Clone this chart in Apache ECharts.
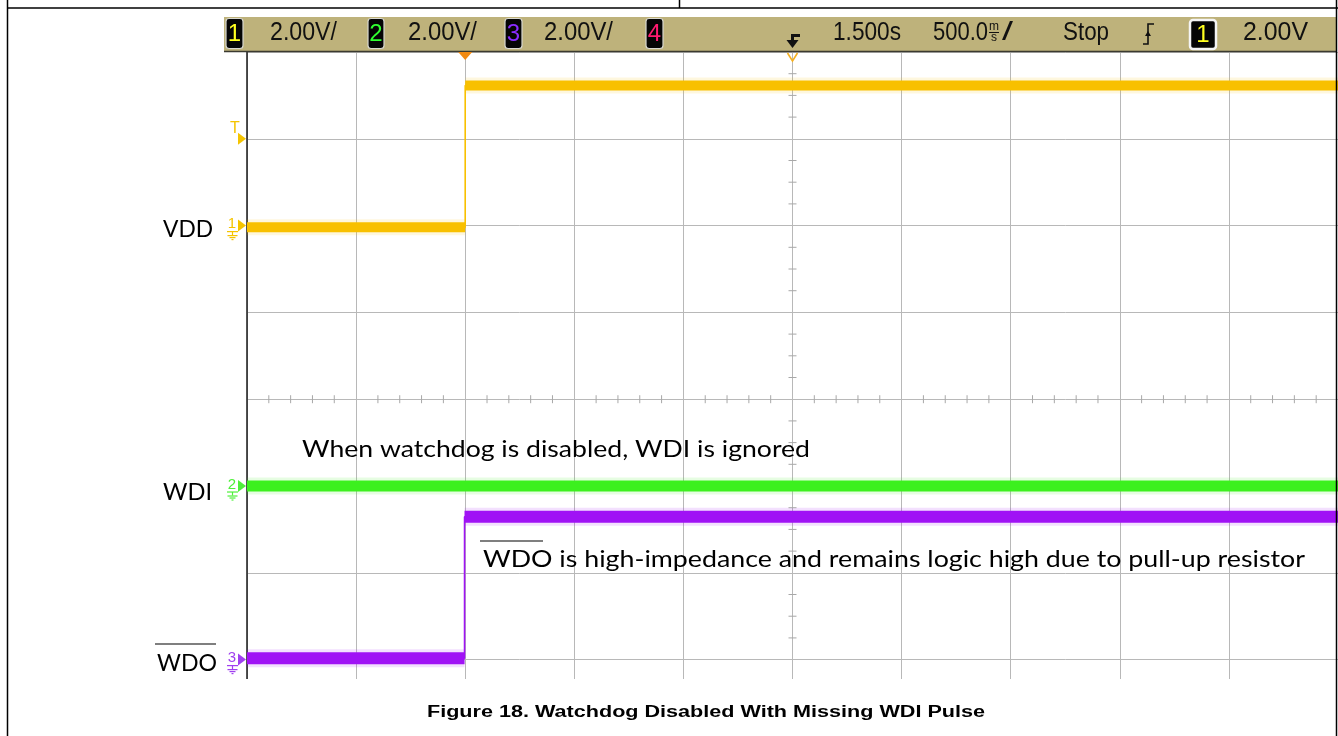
<!DOCTYPE html>
<html><head><meta charset="utf-8">
<script src="https://cdn.jsdelivr.net/npm/echarts@6/dist/echarts.min.js"></script>
<style>html,body{margin:0;padding:0;background:#fff}#c{width:1338px;height:736px}</style>
</head><body><div id="c"></div><script>
// ---------------- data ----------------
const timeRange = [-1.0, 4.0];          // s  (500 ms/div, delay 1.500 s at centre)
const timeStep = 0.5;                   // s per division
const delayTime = 1.5;                  // s
const triggerTime = 0.0;                // s
const divTop = 4;                       // top of screen, divisions above centre
const divVisibleBottom = -3.88;         // screenshot is cropped just above the bottom graticule line
const channelNames = ['VDD', 'WDI', 'WDO'];
const channelNums = ['1', '2', '3'];
const channelOffsetsDiv = [2, -1, -3];  // ground reference of each channel (div above centre)
const voltsPerDiv = [2.0, 2.0, 2.0];
const vddTime = [-1.0, 0.0, 0.0, 4.0];
const vddVolts = [-0.04, -0.04, 3.23, 3.23];
const wdiTime = [-1.0, 4.0];
const wdiVolts = [0.0, 0.0];
const wdoTime = [-1.0, -0.003, -0.003, 4.0];
const wdoVolts = [0.03, 0.03, 3.29, 3.29];
const triggerLevelV = 2.0;
const headerScale = ['2.00V/', '2.00V/', '2.00V/'];
const headerTimeText = ['1.500s', '500.0', 'Stop', '2.00V'];
const annotations = ['When watchdog is disabled, WDI is ignored',
  'WDO is high-impedance and remains logic high due to pull-up resistor'];
const captionText = 'Figure 18. Watchdog Disabled With Missing WDI Pulse';

// ---------------- styles ----------------
const chColors = ['#f8c000', '#3cf01e', '#a012f5'];
const chBandWidth = [10, 11, 12];
const chMarkColors = ['#f5c400', '#4ef03a', '#a040f0'];
const gridColor = '#b8b8b8';

// screen y axis runs downward (inverse), in divisions below centre
const toScreen = (ci, v) => -(channelOffsetsDiv[ci] + v / voltsPerDiv[ci]);

const traces = [[vddTime, vddVolts], [wdiTime, wdiVolts], [wdoTime, wdoVolts]];
const series = [];
traces.forEach(([ts, vs], ci) => {
  const pts = ts.map((t, i) => [t, toScreen(ci, vs[i])]);
  const base = {type: 'line', showSymbol: false, symbol: 'none', silent: true, animation: false, clip: true};
  series.push(Object.assign({}, base, {data: pts, z: 3, lineStyle: {color: chColors[ci], width: 1.6}}));
  for (let i = 1; i < pts.length; i++) {
    if (pts[i][1] === pts[i - 1][1]) {
      series.push(Object.assign({}, base, {data: [pts[i - 1], pts[i]], z: 2,
        lineStyle: {color: chColors[ci], width: chBandWidth[ci] + 6, opacity: 0.13, cap: 'butt'}}));
      series.push(Object.assign({}, base, {data: [pts[i - 1], pts[i]], z: 4,
        lineStyle: {color: chColors[ci], width: chBandWidth[ci], cap: 'butt'}}));
    }
  }
});

const chart = echarts.init(document.getElementById('c'), null, {renderer: 'canvas'});
chart.setOption({
  backgroundColor: '#ffffff',
  animation: false,
  grid: {left: 247, top: 52, right: 0, bottom: 0, containLabel: false},
  xAxis: {type: 'value', min: timeRange[0], max: timeRange[1], interval: timeStep,
    axisLine: {show: false}, axisTick: {show: false}, axisLabel: {show: false},
    splitLine: {show: true, lineStyle: {color: gridColor, width: 1}}},
  yAxis: {type: 'value', inverse: true, min: -divTop, max: -divVisibleBottom, interval: 1,
    axisLine: {show: true, onZero: false, lineStyle: {color: '#1a1a1a', width: 1.5}},
    axisTick: {show: false}, axisLabel: {show: false},
    splitLine: {show: true, lineStyle: {color: gridColor, width: 1}}},
  series: series
});

// ---------------- decorations ----------------
const mctx = document.createElement('canvas').getContext('2d');
function tw(txt, font) { mctx.font = font; return mctx.measureText(txt).width; }
function fitText(txt, x, yMid, w, size, family, weight, color, z) {
  const font = (weight || 'normal') + ' ' + size + 'px ' + family;
  const sx = w / tw(txt, font);
  return {type: 'text', x: x, y: yMid, scaleX: sx, z: z || 50, silent: true,
    style: {text: txt, x: 0, y: 0, font: font, fill: color, align: 'left', verticalAlign: 'middle'}};
}
function line(x1, y1, x2, y2, color, w, z) {
  return {type: 'line', z: z || 50, silent: true, shape: {x1, y1, x2, y2}, style: {stroke: color, lineWidth: w}};
}
const px = (t, d) => chart.convertToPixel({gridIndex: 0}, [t, -d]);
const SCOPE = '"Liberation Sans Narrow", "Liberation Sans", Arial, sans-serif';
const CAL = 'Lato, "Open Sans", sans-serif';
const ARIAL = '"Liberation Sans", Arial, sans-serif';

const g = [];
// header bar
g.push({type: 'rect', z: 40, silent: true, shape: {x: 224, y: 17, width: 1113, height: 35}, style: {fill: '#beb27b'}});
g.push(line(224, 51.5, 1337, 51.5, '#3a3a30', 1.5, 41));
// channel boxes
function chBox(x, w, y, h, digit, color, stroke, sw) {
  g.push({type: 'rect', z: 45, silent: true, shape: {x: x, y: y, width: w, height: h, r: 3},
    style: {fill: '#050505', stroke: stroke, lineWidth: sw}});
  g.push({type: 'text', z: 46, silent: true, x: x + w / 2, y: y + h / 2 + 1,
    style: {text: digit, font: 'normal 24px ' + SCOPE, fill: color, align: 'center', verticalAlign: 'middle'}});
}
chBox(226, 17, 18.5, 30, '1', '#ffff20', '#d8d8d0', 1.2);
chBox(368, 16, 18.5, 30, '2', '#30ff30', '#d8d8d0', 1.2);
chBox(505, 17, 18.5, 30, '3', '#8a2cff', '#d8d8d0', 1.2);
chBox(646, 17, 18.5, 30, '4', '#ff1a70', '#d8d8d0', 1.2);
chBox(1190, 26, 20, 29, '1', '#ffff20', '#f4f4f4', 2.5);
g.push(fitText(headerScale[0], 270, 33, 67, 26, SCOPE, 'normal', '#111', 47));
g.push(fitText(headerScale[1], 408, 33, 69, 26, SCOPE, 'normal', '#111', 47));
g.push(fitText(headerScale[2], 544, 33, 69, 26, SCOPE, 'normal', '#111', 47));
g.push(fitText(headerTimeText[0], 833, 33, 68, 26, SCOPE, 'normal', '#111', 47));
g.push(fitText(headerTimeText[1], 933, 33, 55, 26, SCOPE, 'normal', '#111', 47));
g.push({type: 'text', z: 47, silent: true, x: 994, y: 27, style: {text: 'm', font: 'normal 12px ' + SCOPE, fill: '#111', align: 'center', verticalAlign: 'middle'}});
g.push({type: 'text', z: 47, silent: true, x: 994, y: 38, style: {text: 's', font: 'normal 12px ' + SCOPE, fill: '#111', align: 'center', verticalAlign: 'middle'}});
g.push(line(989, 32.5, 999, 32.5, '#111', 1, 47));
g.push(fitText('/', 1002, 33, 11, 26, SCOPE, 'normal', '#111', 47));
g.push(fitText(headerTimeText[2], 1063, 33, 46, 26, SCOPE, 'normal', '#111', 47));
g.push(fitText(headerTimeText[3], 1243, 33, 65, 26, SCOPE, 'normal', '#111', 47));
// trigger edge symbol
g.push({type: 'polyline', z: 47, silent: true, shape: {points: [[1143, 44], [1148, 44], [1148, 24], [1154, 24]]}, style: {stroke: '#111', lineWidth: 1.6, fill: null}});
g.push({type: 'polygon', z: 47, silent: true, shape: {points: [[1145, 36], [1148, 31], [1151, 36]]}, style: {fill: '#111'}});

// delay / trigger markers
const cx = px(delayTime, 0)[0];
const trigX = px(triggerTime, 0)[0];
g.push({type: 'polygon', z: 47, silent: true, shape: {points: [[cx - 6, 40], [cx + 6, 40], [cx, 48]]}, style: {fill: '#111'}});
g.push({type: 'rect', z: 47, silent: true, shape: {x: cx - 1.5, y: 35, width: 3, height: 6}, style: {fill: '#111'}});
g.push({type: 'rect', z: 47, silent: true, shape: {x: cx - 1.5, y: 34, width: 9, height: 3}, style: {fill: '#111'}});
g.push({type: 'polygon', z: 47, silent: true, shape: {points: [[trigX - 7, 52], [trigX + 7, 52], [trigX, 60]]}, style: {fill: '#f28a10'}});
g.push({type: 'polyline', z: 47, silent: true, shape: {points: [[cx - 5, 53], [cx, 61], [cx + 5, 53]]}, style: {stroke: '#f5b020', lineWidth: 1.6, fill: null}});

// minor ticks on centre lines
const yc = px(0, 0)[1];
for (let k = 0; k <= 50; k++) {
  if (k % 5 === 0) continue;
  const x = px(timeRange[0] + k * 0.1, 0)[0];
  g.push(line(x, yc - 4, x, yc + 4, '#a8a8a8', 1, 30));
}
for (let k = 0; k <= 32; k++) {
  if (k % 4 === 0) continue;
  const y = px(0, divTop - k * 0.25)[1];
  g.push(line(cx - 4, y, cx + 4, y, '#a8a8a8', 1, 30));
}

// channel ground markers
const plotLeft = px(timeRange[0], 0)[0];
channelNums.forEach((n, ci) => {
  const y = px(0, channelOffsetsDiv[ci])[1];
  const c = chMarkColors[ci];
  g.push({type: 'text', z: 48, silent: true, x: plotLeft - 15, y: y - 1.5,
    style: {text: n, font: 'normal 15px ' + SCOPE, fill: c, align: 'center', verticalAlign: 'middle'}});
  g.push({type: 'polygon', z: 48, silent: true, shape: {points: [[plotLeft - 9, y - 6], [plotLeft - 1, y], [plotLeft - 9, y + 6]]}, style: {fill: c}});
  g.push(line(plotLeft - 20, y + 6, plotLeft - 9, y + 6, c, 1.2, 48));
  g.push(line(plotLeft - 14.5, y + 6, plotLeft - 14.5, y + 9.5, c, 1.2, 48));
  g.push(line(plotLeft - 19.5, y + 10, plotLeft - 9.5, y + 10, c, 1.2, 48));
  g.push(line(plotLeft - 17.5, y + 12, plotLeft - 11.5, y + 12, c, 1.2, 48));
  g.push(line(plotLeft - 15.5, y + 14, plotLeft - 13.5, y + 14, c, 1.2, 48));
});
// trigger level marker
const yT = px(0, channelOffsetsDiv[0] + triggerLevelV / voltsPerDiv[0])[1];
g.push({type: 'text', z: 48, silent: true, x: plotLeft - 12, y: yT - 10,
  style: {text: 'T', font: 'normal 16px ' + SCOPE, fill: chMarkColors[0], align: 'center', verticalAlign: 'middle'}});
g.push({type: 'polygon', z: 48, silent: true, shape: {points: [[plotLeft - 9, yT - 6], [plotLeft - 1, yT], [plotLeft - 9, yT + 6]]}, style: {fill: chMarkColors[0]}});

// channel labels
g.push(fitText(channelNames[0], 163, 230, 50, 23, CAL, 'normal', '#000', 60));
g.push(fitText(channelNames[1], 163, 493, 49, 23, CAL, 'normal', '#000', 60));
g.push(fitText(channelNames[2], 157, 664, 60, 23, CAL, 'normal', '#000', 60));
g.push(line(155, 644, 216, 644, '#000', 1.2, 60));
// annotations
g.push(fitText(annotations[0], 302, 450, 508, 23, CAL, 'normal', '#000', 60));
g.push(fitText(annotations[1], 483, 559.5, 822, 23, CAL, 'normal', '#000', 60));
g.push(line(480, 541, 543, 541, '#000', 1.2, 60));

// bottom cover + caption + frame
g.push({type: 'rect', z: 90, silent: true, shape: {x: 0, y: 679, width: 1338, height: 57}, style: {fill: '#ffffff'}});
g.push(fitText(captionText, 427, 712.5, 558, 16, ARIAL, 'bold', '#000', 95));
g.push(line(7.5, 0, 7.5, 736, '#000', 1.5, 99));
g.push(line(1336.5, 0, 1336.5, 736, '#000', 1.5, 99));
g.push(line(7, 8, 1338, 8, '#000', 1.5, 99));
g.push(line(679.5, 0, 679.5, 8, '#000', 1.5, 99));

chart.setOption({graphic: {elements: g}});
</script></body></html>
